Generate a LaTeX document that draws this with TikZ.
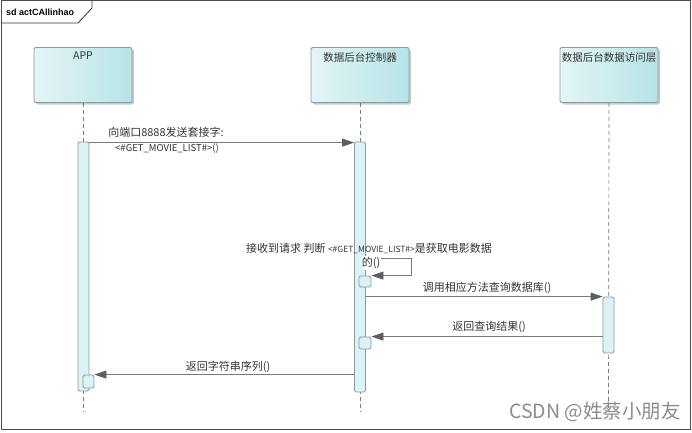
\documentclass[tikz,border=0pt]{standalone}
\usepackage{fontspec}
\setmainfont{Noto Sans CJK SC}
\newfontfamily\titlefont{Liberation Sans}
\usetikzlibrary{shadows,arrows.meta,calc}
\definecolor{txt}{HTML}{333333}
\definecolor{bordergray}{HTML}{8C9A9C}
\definecolor{headL}{HTML}{E4F5F6}
\definecolor{headR}{HTML}{B6E4E7}
\definecolor{barfill}{HTML}{DCF3F5}
\definecolor{linegray}{HTML}{7A7A7A}
\definecolor{tipgray}{HTML}{5E5E5E}
\tikzset{
  head/.style={draw=bordergray, line width=0.9pt, rounded corners=2pt,
    left color=headL, right color=headR, minimum width=98pt, minimum height=55pt,
    drop shadow={shadow xshift=2pt, shadow yshift=-2pt, fill=black!35, opacity=0.6}},
  headtext/.style={anchor=north, yshift=-4pt, font=\fontsize{10.5}{12}\selectfont, text=txt, inner sep=1pt},
  bar/.style={draw=bordergray, line width=0.8pt, rounded corners=1.5pt, fill=barfill, inner sep=0pt},
  life/.style={draw=linegray, line width=0.7pt, dash pattern=on 4pt off 3pt},
  msg/.style={draw=linegray, line width=0.8pt, -{Triangle[length=12pt,width=8pt,fill=tipgray,color=tipgray]}},
  lbl/.style={font=\fontsize{11}{12}\selectfont, text=txt, inner sep=1pt},
  small/.style={font=\fontsize{9.5}{10}\selectfont}
}
\begin{document}
\begin{tikzpicture}[x=1pt,y=-1pt]
\useasboundingbox (0,0) rectangle (692,432);
% frame
\draw[black!70, line width=0.8pt] (1,0.5) rectangle (690.5,429.5);
\draw[black!80, line width=0.8pt] (1,23) -- (78,23) -- (92,8) -- (92,0.5);
\node[anchor=west, font=\titlefont\bfseries\fontsize{9}{10}\selectfont, inner sep=0pt] (title) at (6,12) {sd actCAllinhao};

% lifeline heads
\node[head, label={[headtext]north:APP}] (app) at (83,75) {};
\node[head, label={[headtext]north:数据后台控制器}] (ctrl) at (360,75) {};
\node[head, label={[headtext]north:数据后台数据访问层}] (acc) at (609,75) {};

% lifelines
\coordinate (append) at (83,412);
\coordinate (ctrlend) at (360,412);
\coordinate (accend) at (608.5,412);
\draw[life] (app.south) -- (append);
\draw[life] (ctrl.south) -- (ctrlend);
\draw[life] (acc.south) -- (accend);

% activation bars
\node[bar, minimum width=11pt, minimum height=249pt] (appbar) at (83.5,266.5) {};
\node[bar, minimum width=11pt, minimum height=13pt] (appsmall) at (88.5,381.5) {};
\node[bar, minimum width=11pt, minimum height=250pt] (ctrlbar) at (360,267) {};
\node[bar, minimum width=12pt, minimum height=11pt] (ctrlsmall1) at (365,281.5) {};
\node[bar, minimum width=12pt, minimum height=12pt] (ctrlsmall2) at (365,343) {};
\node[bar, minimum width=11pt, minimum height=56pt] (accbar) at (608.5,325) {};

% message 1
\draw[msg] ($(appbar.north east)+(0,1)$) -- ($(ctrlbar.north west)+(0,1)$);
\node[lbl] (m1a) at (166,132) {向端口8888发送套接字:};
\node[lbl, small, fill=white] (m1b) at (167,148.5) {<\#GET\_MOVIE\_LIST\#>()};

% self message
\draw[msg] ($(ctrlsmall1.north -| ctrlbar.east)+(0,-17)$) -- ++(45,0) |- (ctrlsmall1.north east);
\node[lbl] (s1a) at (369,248) {接收到请求 判断 {\fontsize{8.5}{9}\selectfont<\#GET\_MOVIE\_LIST\#>}是获取电影数据};
\node[lbl, fill=white] (s1b) at (371,263) {的()};

% message 3
\draw[msg] (accbar.north west -| ctrlbar.east) -- (accbar.north west);
\node[lbl] (m3) at (487,288) {调用相应方法查询数据库()};

% message 4
\draw[msg] (accbar.west |- ctrlsmall2.north) -- (ctrlsmall2.north east);
\node[lbl] (m4) at (489,327) {返回查询结果()};

% message 5
\draw[msg] (ctrlbar.west |- appsmall.north) -- (appsmall.north east);
\node[lbl] (m5) at (228,367) {返回字符串序列()};

% watermark
\node[anchor=east, text=black!45, font=\fontsize{19.5}{21}\selectfont, inner sep=0pt] (wm) at (681,412) {CSDN @姓蔡小朋友};
\end{tikzpicture}
\end{document}
